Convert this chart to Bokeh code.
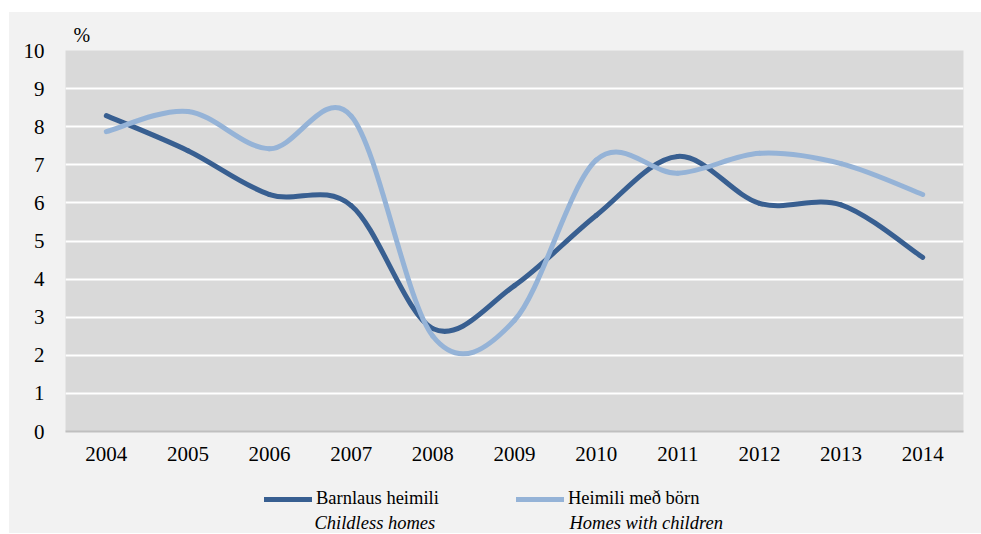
from bokeh.plotting import figure
from bokeh.layouts import column, row
from bokeh.models import Range1d, FixedTicker, Label, Legend, LegendItem, ColumnDataSource, Spacer
from bokeh.embed import file_html
from bokeh.resources import INLINE

# ---- data ----
years = [2004, 2005, 2006, 2007, 2008, 2009, 2010, 2011, 2012, 2013, 2014]
childless = [8.29, 7.37, 6.22, 5.93, 2.70, 3.83, 5.67, 7.22, 5.99, 5.95, 4.57]
with_children = [7.87, 8.40, 7.42, 8.28, 2.50, 2.92, 7.12, 6.78, 7.30, 7.03, 6.22]
y_ticks = [0, 1, 2, 3, 4, 5, 6, 7, 8, 9, 10]
series_names = ["Barnlaus heimili", "Heimili með börn"]
series_names_en = ["Childless homes", "Homes with children"]
colors = ["#385f91", "#95b3d7"]

FONT = "Liberation Serif"
BG = "#f2f2f2"

p = figure(width=972, height=463, output_backend="svg", toolbar_location=None,
           x_range=Range1d(2003.5, 2014.5), y_range=Range1d(0, 10),
           min_border_left=56, min_border_right=18, min_border_top=38, min_border_bottom=44)
p.border_fill_color = BG
p.background_fill_color = "#d9d9d9"
p.outline_line_color = None

p.title.text = "%"
p.title.text_font = FONT
p.title.text_font_size = "20px"
p.title.text_font_style = "normal"
p.title.text_color = "black"
p.title.align = "left"
p.title.offset = 8
p.title.standoff = 9

p.xgrid.grid_line_color = None
p.ygrid.grid_line_color = "white"
p.ygrid.grid_line_width = 2
p.ygrid.ticker = FixedTicker(ticks=y_ticks)

p.yaxis.ticker = FixedTicker(ticks=y_ticks)
p.yaxis.axis_line_color = None
p.yaxis.major_tick_line_color = None
p.yaxis.minor_tick_line_color = None
p.yaxis.major_label_text_font = FONT
p.yaxis.major_label_text_font_size = "21px"
p.yaxis.major_label_text_color = "black"
p.yaxis.major_label_standoff = 15

p.xaxis.ticker = FixedTicker(ticks=years)
p.xaxis.major_label_overrides = {y: str(y) for y in years}
p.xaxis.axis_line_color = "#bfbfbf"
p.xaxis.axis_line_width = 2
p.xaxis.major_tick_line_color = None
p.xaxis.minor_tick_line_color = None
p.xaxis.major_label_text_font = FONT
p.xaxis.major_label_text_font_size = "21px"
p.xaxis.major_label_text_color = "black"
p.xaxis.major_label_standoff = 9


def bezier_source(xs, ys):
    # Catmull-Rom style smoothing (as in spreadsheet "smoothed line")
    n = len(xs)
    d = dict(x0=[], y0=[], x1=[], y1=[], cx0=[], cy0=[], cx1=[], cy1=[])
    for i in range(n - 1):
        im1 = max(i - 1, 0)
        ip2 = min(i + 2, n - 1)
        d["x0"].append(xs[i]); d["y0"].append(ys[i])
        d["x1"].append(xs[i + 1]); d["y1"].append(ys[i + 1])
        d["cx0"].append(xs[i] + (xs[i + 1] - xs[im1]) / 6)
        d["cy0"].append(ys[i] + (ys[i + 1] - ys[im1]) / 6)
        d["cx1"].append(xs[i + 1] - (xs[ip2] - xs[i]) / 6)
        d["cy1"].append(ys[i + 1] - (ys[ip2] - ys[i]) / 6)
    return ColumnDataSource(d)


series = [childless, with_children]
for vals, col in zip(series, colors):
    p.bezier(x0="x0", y0="y0", x1="x1", y1="y1", cx0="cx0", cy0="cy0",
             cx1="cx1", cy1="cy1", source=bezier_source(years, vals),
             line_color=col, line_width=5, line_cap="round")

# ---- legend strip: frame aligned with main plot, x in page pixels ----
LH = 58
pl = figure(width=972, height=LH, output_backend="svg", toolbar_location=None,
            x_range=Range1d(65, 963), y_range=Range1d(0, LH),
            min_border_left=56, min_border_right=18,
            min_border_top=0, min_border_bottom=0)
pl.axis.visible = False
pl.grid.visible = False
pl.outline_line_color = None
pl.background_fill_color = None
pl.border_fill_color = BG

legend_x = [199, 451]   # offsets from the plot frame's left edge
italic_x = [314, 569]
for i in range(2):
    # series line in this strip lies outside its x range: only its legend glyph shows
    proxy = pl.line(x=years, y=series[i], line_color=colors[i], line_width=5, line_cap="round")
    lg = Legend(items=[LegendItem(label=series_names[i], renderers=[proxy])],
                location=(legend_x[i], 24), orientation="horizontal",
                padding=0, margin=0, border_line_color=None,
                background_fill_color=None, glyph_width=48, glyph_height=20,
                label_height=20, label_standoff=4,
                label_text_font=FONT, label_text_font_size="18.5px",
                label_text_color="black")
    pl.add_layout(lg)
    pl.add_layout(Label(x=italic_x[i], y=11, text=series_names_en[i],
                        text_font=FONT, text_font_style="italic",
                        text_font_size="18.5px", text_color="black",
                        text_baseline="middle", text_align="left"))

chart = column(p, pl, spacing=0, styles={"background-color": BG})
layout = column(Spacer(width=981, height=12),
                row(Spacer(width=9, height=LH + 463), chart, spacing=0),
                spacing=0)

open("out.html", "w").write(file_html(layout, INLINE))
